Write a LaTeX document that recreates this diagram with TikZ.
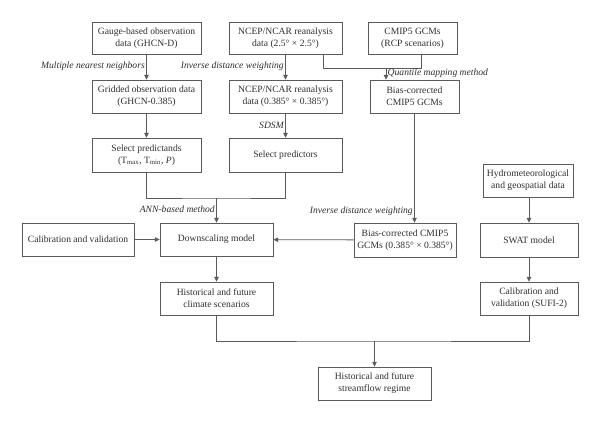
\documentclass[tikz,border=0pt]{standalone}
\usepackage{fontspec}
\setmainfont{Liberation Serif}
\usetikzlibrary{arrows.meta,calc}
\definecolor{linec}{HTML}{5A5A5A}
\definecolor{textc}{HTML}{2E2E2E}
\begin{document}
\begin{tikzpicture}[x=0.75pt,y=-0.75pt,
  box/.style={draw=linec,line width=0.6pt,align=center,inner sep=1pt,text=textc,
    font=\fontsize{7.2}{9}\selectfont},
  conn/.style={draw=linec,line width=0.6pt},
  arr/.style={conn,-{Triangle[length=3.6pt,width=3.4pt]}},
  lab/.style={font=\fontsize{7.2}{9}\selectfont\itshape,text=textc,inner sep=1pt}]
\useasboundingbox (0,0) rectangle (600,422);
\node[box,minimum width=109*0.75pt,minimum height=32*0.75pt] (gauge) at (146.5,38) {Gauge-based observation\\data (GHCN-D)};
\node[box,minimum width=113*0.75pt,minimum height=32*0.75pt] (ncep1) at (285.5,38) {NCEP/NCAR reanalysis\\data (2.5° × 2.5°)};
\node[box,minimum width=89*0.75pt,minimum height=32*0.75pt] (cmip) at (412.5,38) {CMIP5 GCMs\\(RCP scenarios)};
\node[box,minimum width=109*0.75pt,minimum height=33*0.75pt] (grid) at (146.5,96.5) {Gridded observation data\\(GHCN-0.385)};
\node[box,minimum width=113*0.75pt,minimum height=33*0.75pt] (ncep2) at (285.5,96.5) {NCEP/NCAR reanalysis\\data (0.385° × 0.385°)};
\node[box,minimum width=89*0.75pt,minimum height=33*0.75pt] (bias1) at (414.5,96.5) {Bias-corrected\\CMIP5 GCMs};
\node[box,minimum width=109*0.75pt,minimum height=34*0.75pt] (pred) at (146.5,155) {Select predictands\\(T\textsubscript{max}, T\textsubscript{min}, \textit{P})};
\node[box,minimum width=113*0.75pt,minimum height=34*0.75pt] (predr) at (285.5,155) {Select predictors};
\node[box,minimum width=112*0.75pt,minimum height=33*0.75pt] (calib) at (78,239.5) {Calibration and validation};
\node[box,minimum width=113*0.75pt,minimum height=33*0.75pt] (down) at (216.5,239.5) {Downscaling model};
\node[box,minimum width=102*0.75pt,minimum height=34*0.75pt] (bias2) at (405,240) {Bias-corrected CMIP5\\GCMs (0.385° × 0.385°)};
\node[box,minimum width=90*0.75pt,minimum height=33*0.75pt] (hydro) at (528,180.5) {Hydrometeorological\\and geospatial data};
\node[box,minimum width=98*0.75pt,minimum height=34*0.75pt] (swat) at (529,240) {SWAT model};
\node[box,minimum width=113*0.75pt,minimum height=33*0.75pt] (clim) at (216.5,298.5) {Historical and future\\climate scenarios};
\node[box,minimum width=98*0.75pt,minimum height=33*0.75pt] (calib2) at (529,298.5) {Calibration and\\validation (SUFI-2)};
\node[box,minimum width=113*0.75pt,minimum height=33*0.75pt] (stream) at (374.5,383.5) {Historical and future\\streamflow regime};
% junction coordinates
\coordinate (j1) at (323,68);
\coordinate (j2) at (421,68);
\coordinate (j3) at (386,68);
\coordinate (j4) at (216.5,198);
\coordinate (j5) at (374.5,341);
% connectors
\draw[arr] (gauge) -- node[lab,left,pos=0.45] {Multiple nearest neighbors} (grid);
\draw[arr] (ncep1) -- node[lab,left,pos=0.45] {Inverse distance weighting} (ncep2);
\draw[conn] (ncep1.south -| j1) -- (j1) -- (j2) -- (cmip.south -| j2);
\draw[arr] (j3) -- node[lab,right,pos=0.45] {Quantile mapping method} (bias1.north -| j3);
\draw[arr] (grid) -- (pred);
\draw[arr] (ncep2) -- node[lab,left,pos=0.5] {SDSM} (predr);
\draw[conn] (pred.south) |- (j4) -| (predr.south);
\draw[arr] (j4) -- node[lab,left,pos=0.45] {ANN-based method} (down);
\draw[arr] (calib) -- (down);
\draw[arr] (bias2) -- (down);
\draw[arr] (bias1.south) -- node[lab,left,pos=0.9] {Inverse distance weighting} (bias1.south |- bias2.north);
\draw[arr] (hydro.south -| swat) -- (swat);
\draw[arr] (swat) -- (calib2);
\draw[arr] (down) -- (clim);
\draw[conn] (clim.south) |- (j5) -| (calib2.south);
\draw[arr] (j5) -- (stream);
\end{tikzpicture}
\end{document}
